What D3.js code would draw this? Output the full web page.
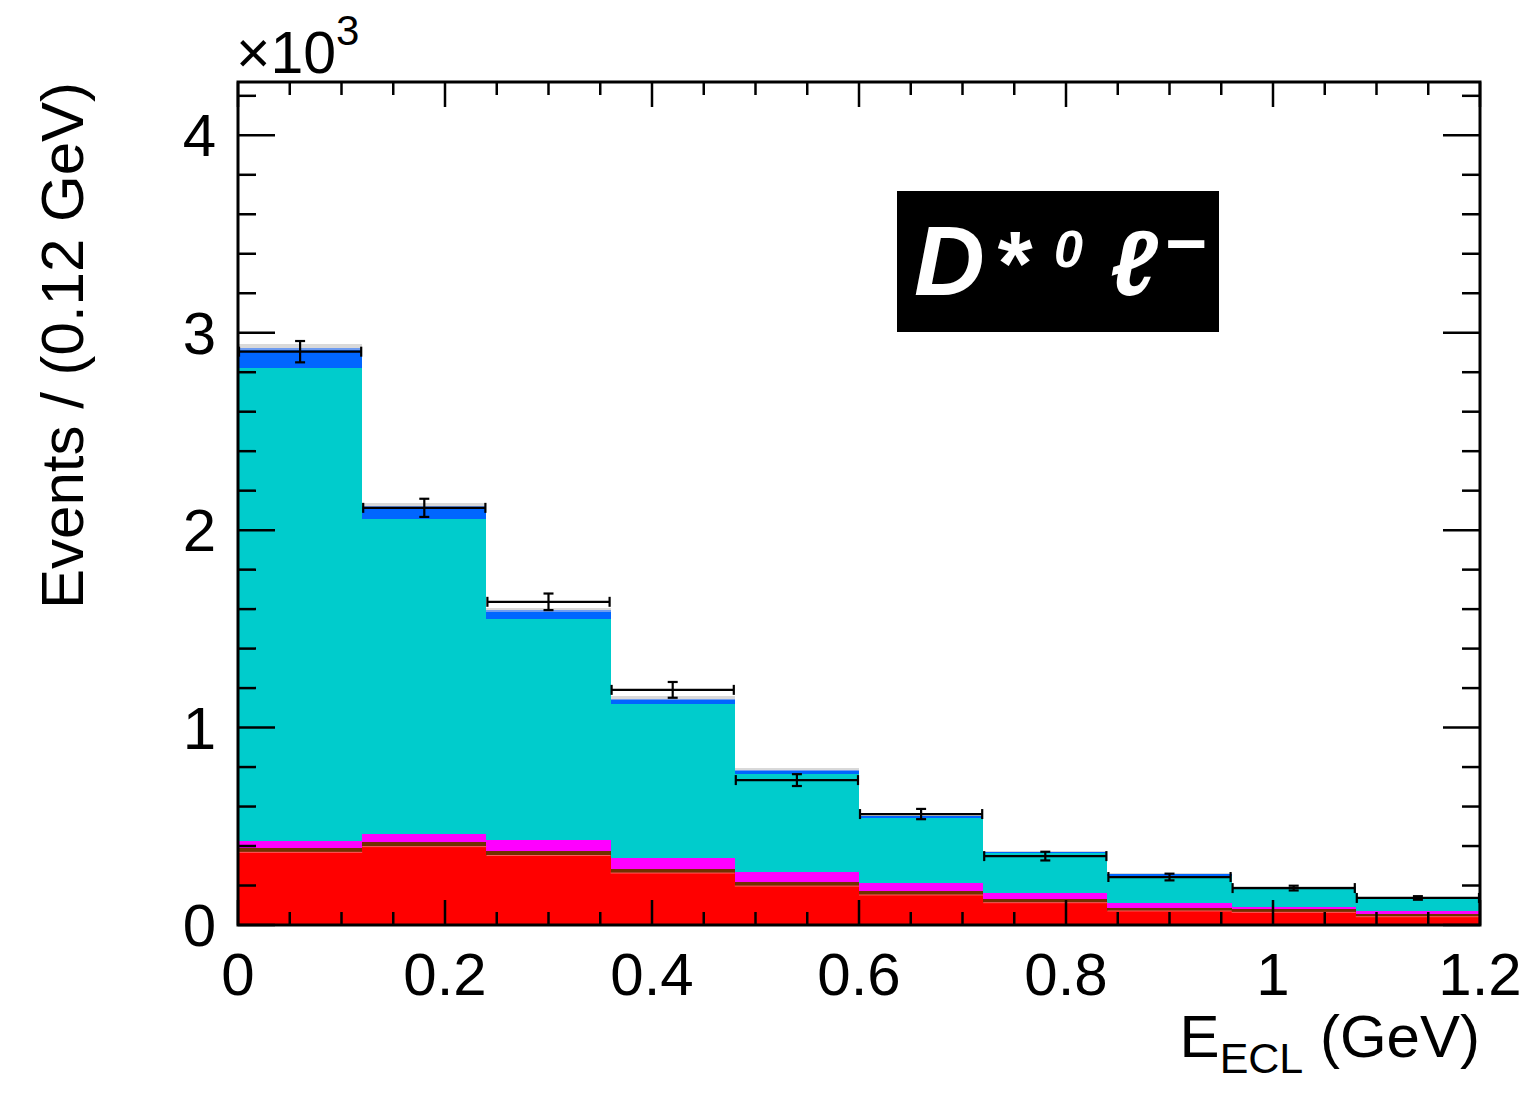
<!DOCTYPE html>
<html>
<head>
<meta charset="utf-8">
<script src="https://cdn.jsdelivr.net/npm/d3@7"></script>
<style>
  body { margin: 0; background: #fff; }
  svg { display: block; font-family: "Liberation Sans", Arial, sans-serif; }
</style>
</head>
<body>
<div id="chart"></div>
<script>
/* bins of E_ECL, 0.12 GeV wide */
var binEdges = [0, 0.12, 0.24, 0.36, 0.48, 0.60, 0.72, 0.84, 0.96, 1.08, 1.20];

/* stacked MC components, bottom to top (events per bin) */
var redVals     = [368, 397, 352, 263, 197, 152, 113, 71, 64, 42];
var brownVals   = [23, 23, 24, 19, 21, 19, 17, 17, 15, 15];
var magentaVals = [34, 41, 54, 56, 50, 43, 30, 25, 14, 14];
var cyanVals    = [2395, 1595, 1119, 781, 497, 326, 203, 137, 98, 64];
var blueVals    = [95, 62, 36, 20, 14, 10, 5, 6, 3, 2];
var ltBlueVals  = [6, 5, 10, 5, 4, 3, 2, 2, 1, 1];
var grayVals    = [24, 13, 10, 15, 11, 13, 6, 7, 4, 3];

/* data points */
var dataVals = [2904, 2113, 1637, 1191, 734, 562, 349, 243, 187, 137];
var dataErrs = [54, 46, 42, 40, 30, 26, 22, 17, 12, 9];

var xTicks = [0, 0.2, 0.4, 0.6, 0.8, 1.0, 1.2];
var xTickLabels = ['0', '0.2', '0.4', '0.6', '0.8', '1', '1.2'];
var yTicks = [0, 1000, 2000, 3000, 4000];
var yTickLabels = ['0', '1', '2', '3', '4'];

var W = 1538, H = 1096;
var L = 238, R = 1480, T = 82, B = 925;

var svg = d3.select('#chart').append('svg')
  .attr('width', W).attr('height', H);

var x = d3.scaleLinear().domain([0, 1.2]).range([L, R]);
var y = d3.scaleLinear().domain([0, 4270]).range([B, T]);

var layers = [
  { vals: redVals,     color: '#ff0000', line: '#ff5a5a' },
  { vals: brownVals,   color: '#733000', line: '#733000' },
  { vals: magentaVals, color: '#ff00ff', line: '#ff00ff' },
  { vals: cyanVals,    color: '#00cccc', line: '#00cccc' },
  { vals: blueVals,    color: '#0066ff', line: '#0066ff' },
  { vals: ltBlueVals,  color: '#6f9cf0', line: '#6f9cf0' },
  { vals: grayVals,    color: '#d9d9d9', line: '#d9d9d9' }
];

/* build stack table from the arrays */
var table = dataVals.map(function (d, i) {
  var row = { lo: binEdges[i], hi: binEdges[i + 1] };
  layers.forEach(function (l, k) { row['c' + k] = l.vals[i]; });
  return row;
});
var keys = layers.map(function (l, k) { return 'c' + k; });
var stacked = d3.stack().keys(keys)(table);

var gStack = svg.append('g');
stacked.forEach(function (s, k) {
  gStack.selectAll(null).data(s).enter().append('rect')
    .attr('x', function (d) { return x(d.data.lo); })
    .attr('width', function (d) { return x(d.data.hi) - x(d.data.lo); })
    .attr('y', function (d) { return y(d[1]); })
    .attr('height', function (d) { return Math.max(0, y(d[0]) - y(d[1])); })
    .attr('fill', layers[k].color)
    .attr('shape-rendering', 'crispEdges');
});
/* thin pale top edge of the red component */
gStack.selectAll(null).data(stacked[0]).enter().append('line')
  .attr('x1', function (d) { return x(d.data.lo); })
  .attr('x2', function (d) { return x(d.data.hi); })
  .attr('y1', function (d) { return y(d[1]); })
  .attr('y2', function (d) { return y(d[1]); })
  .attr('stroke', layers[0].line).attr('stroke-width', 1);

/* ── data points with error bars ── */
var gData = svg.append('g').attr('stroke', '#000').attr('stroke-width', 2.2);
dataVals.forEach(function (v, i) {
  var x0 = x(binEdges[i]) + 1, x1 = x(binEdges[i + 1]) - 1;
  var xc = x((binEdges[i] + binEdges[i + 1]) / 2);
  var yc = y(v), yl = y(v - dataErrs[i]), yh = y(v + dataErrs[i]);
  gData.append('line').attr('x1', x0).attr('x2', x1).attr('y1', yc).attr('y2', yc);
  gData.append('line').attr('x1', x0).attr('x2', x0).attr('y1', yc - 5).attr('y2', yc + 5);
  gData.append('line').attr('x1', x1).attr('x2', x1).attr('y1', yc - 5).attr('y2', yc + 5);
  gData.append('line').attr('x1', xc).attr('x2', xc).attr('y1', yl).attr('y2', yh);
  gData.append('line').attr('x1', xc - 5).attr('x2', xc + 5).attr('y1', yl).attr('y2', yl);
  gData.append('line').attr('x1', xc - 5).attr('x2', xc + 5).attr('y1', yh).attr('y2', yh);
});

/* ── frame and ticks (ROOT style, all four sides) ── */
var gAx = svg.append('g').attr('stroke', '#000').attr('stroke-width', 2.5);
var xMinor = d3.range(0, 1.2001, 0.05);
xMinor.forEach(function (v, i) {
  var len = (i % 4 === 0) ? 25 : 13;
  gAx.append('line').attr('x1', x(v)).attr('x2', x(v)).attr('y1', B).attr('y2', B - len);
  gAx.append('line').attr('x1', x(v)).attr('x2', x(v)).attr('y1', T).attr('y2', T + len);
});
var yMinor = d3.range(0, 4201, 200);
yMinor.forEach(function (v, i) {
  var len = (i % 5 === 0) ? 37 : 18;
  gAx.append('line').attr('x1', L).attr('x2', L + len).attr('y1', y(v)).attr('y2', y(v));
  gAx.append('line').attr('x1', R).attr('x2', R - len).attr('y1', y(v)).attr('y2', y(v));
});
svg.append('rect')
  .attr('x', L).attr('y', T).attr('width', R - L).attr('height', B - T)
  .attr('fill', 'none').attr('stroke', '#000').attr('stroke-width', 3);

/* tick labels */
svg.selectAll('.xl').data(xTicks).enter().append('text')
  .attr('x', function (d) { return x(d); }).attr('y', 995)
  .attr('text-anchor', 'middle').attr('font-size', 60)
  .text(function (d, i) { return xTickLabels[i]; });
svg.selectAll('.yl').data(yTicks).enter().append('text')
  .attr('x', 216).attr('y', function (d) { return y(d) + 21; })
  .attr('text-anchor', 'end').attr('font-size', 60)
  .text(function (d, i) { return yTickLabels[i]; });

/* ×10^3 */
var mult = svg.append('text').attr('x', 236).attr('y', 73).attr('font-size', 59);
mult.append('tspan').text('\u00d710');
mult.append('tspan').attr('dy', -28).attr('font-size', 42).text('3');

/* axis titles */
var xt = svg.append('text').attr('x', R).attr('y', 1057)
  .attr('text-anchor', 'end').attr('font-size', 60);
xt.append('tspan').text('E');
xt.append('tspan').attr('dy', 16).attr('font-size', 43).text('ECL');
xt.append('tspan').attr('dy', -16).text(' (GeV)');

svg.append('text')
  .attr('transform', 'translate(83,' + T + ') rotate(-90)')
  .attr('text-anchor', 'end').attr('font-size', 60)
  .text('Events / (0.12 GeV)');

/* ── channel label box ── */
svg.append('rect').attr('x', 897).attr('y', 191).attr('width', 322).attr('height', 141)
  .attr('fill', '#000');
var lab = svg.append('g').attr('fill', '#fff').attr('font-weight', 'bold')
  .attr('font-style', 'italic');
lab.append('text').attr('x', 914).attr('y', 295).attr('font-size', 98).text('D');
lab.append('text').attr('x', 994).attr('y', 295).attr('font-size', 90).text('*');
lab.append('text').attr('x', 1054).attr('y', 267).attr('font-size', 52).text('0');
lab.append('text').attr('x', 1110).attr('y', 295).attr('font-size', 92).text('\u2113');
lab.append('text').attr('x', 1164).attr('y', 268).attr('font-size', 72).text('\u2212');
</script>
</body>
</html>
